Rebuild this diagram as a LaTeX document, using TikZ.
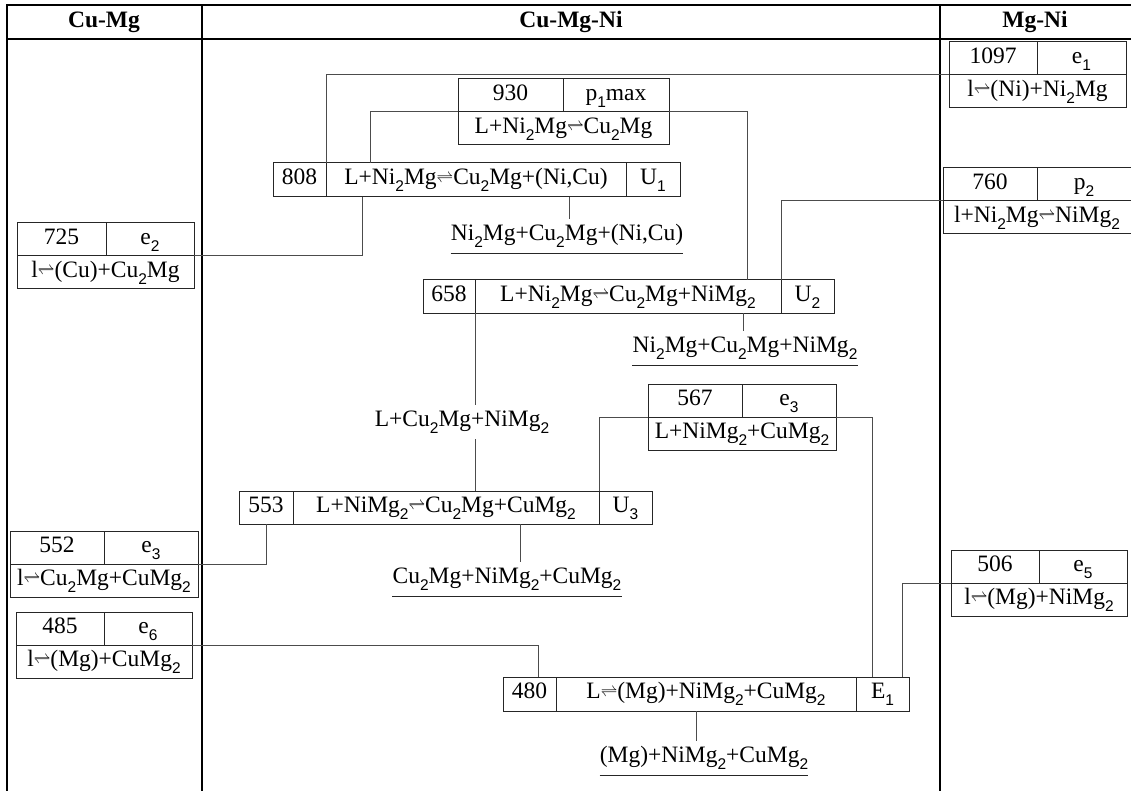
\documentclass[tikz,border=0pt]{standalone}
\usepackage{fontspec}
\usepackage{graphicx}
\setmainfont{Liberation Serif}
\setsansfont{Liberation Sans}
\usetikzlibrary{positioning}
\newcommand\dn[1]{\raisebox{-0.3em}{\sffamily\fontsize{15.5}{15.5}\selectfont#1}}
\newcommand\eqr{\raisebox{0.1em}{\scalebox{0.68}{$\rightleftharpoons$}}}
\tikzset{
 txt/.style={font=\fontsize{23.5}{28}\selectfont},
 cell/.style={txt,draw=black!85,line width=1pt,inner sep=0pt,outer sep=0pt,minimum height=33pt,text height=16.8pt,text depth=7pt},
 head/.style={font=\fontsize{23.5}{28}\selectfont\bfseries},
 prod/.style={txt,inner xsep=0pt,inner ysep=5pt,text height=16.8pt,text depth=7pt},
 conn/.style={draw=black!70,line width=1pt},
 uline/.style={draw=black!85,line width=1pt},
 frame/.style={draw=black,line width=1.3pt}
}
\begin{document}
\begin{tikzpicture}[x=1pt,y=-1pt]
\useasboundingbox (0,0) rectangle (1131,791);
% table frame
\draw[frame] (1131,5) -- (7,5) -- (7,791);
\draw[frame] (7,39) -- (1131,39);
\draw[frame] (202,5) -- (202,791);
\draw[frame] (940,5) -- (940,791);
\node[head] (hcm) at (104,22) {Cu-Mg};
\node[head] (hcmn) at (571,22) {Cu-Mg-Ni};
\node[head] (hmn) at (1035,22) {Mg-Ni};
% binary invariants
\node[cell,minimum width=88pt,anchor=north west] (n1097a) at (949,42) {1097};
\node[cell,minimum width=89pt,right=0pt of n1097a] (n1097k) {e\dn1};
\node[cell,minimum width=177pt,anchor=north west] (n1097r) at (n1097a.south west) {l\eqr(Ni)+Ni\dn2Mg};
\node[cell,minimum width=94pt,anchor=north west] (n760a) at (943,168) {760};
\node[cell,minimum width=94pt,right=0pt of n760a] (n760k) {p\dn2};
\node[cell,minimum width=188pt,anchor=north west] (n760r) at (n760a.south west) {l+Ni\dn2Mg\eqr NiMg\dn2};
\node[cell,minimum width=89pt,anchor=north west] (n725a) at (17,223) {725};
\node[cell,minimum width=88pt,right=0pt of n725a] (n725k) {e\dn2};
\node[cell,minimum width=177pt,anchor=north west] (n725r) at (n725a.south west) {l\eqr(Cu)+Cu\dn2Mg};
\node[cell,minimum width=94pt,anchor=north west] (n552a) at (10,531) {552};
\node[cell,minimum width=94pt,right=0pt of n552a] (n552k) {e\dn3};
\node[cell,minimum width=188pt,anchor=north west] (n552r) at (n552a.south west) {l\eqr Cu\dn2Mg+CuMg\dn2};
\node[cell,minimum width=88pt,anchor=north west] (n485a) at (16,612) {485};
\node[cell,minimum width=88pt,right=0pt of n485a] (n485k) {e\dn6};
\node[cell,minimum width=176pt,anchor=north west] (n485r) at (n485a.south west) {l\eqr(Mg)+CuMg\dn2};
\node[cell,minimum width=88pt,anchor=north west] (n506a) at (951,550) {506};
\node[cell,minimum width=88pt,right=0pt of n506a] (n506k) {e\dn5};
\node[cell,minimum width=176pt,anchor=north west] (n506r) at (n506a.south west) {l\eqr(Mg)+NiMg\dn2};
% ternary maxima
\node[cell,minimum width=105pt,anchor=north west] (n930a) at (458,79) {930};
\node[cell,minimum width=106pt,right=0pt of n930a] (n930k) {p\dn1max};
\node[cell,minimum width=211pt,anchor=north west] (n930r) at (n930a.south west) {L+Ni\dn2Mg\eqr Cu\dn2Mg};
\node[cell,minimum width=94pt,anchor=north west] (n567a) at (648,384) {567};
\node[cell,minimum width=94pt,right=0pt of n567a] (n567k) {e\dn3};
\node[cell,minimum width=188pt,anchor=north west] (n567r) at (n567a.south west) {L+NiMg\dn2+CuMg\dn2};
% ternary invariants
\node[cell,minimum width=53pt,minimum height=34pt,anchor=north west] (n808a) at (273,163) {808};
\node[cell,minimum width=300pt,minimum height=34pt,right=0pt of n808a] (n808r) {L+Ni\dn2Mg\eqr Cu\dn2Mg+(Ni,Cu)};
\node[cell,minimum width=54pt,minimum height=34pt,right=0pt of n808r] (n808k) {U\dn1};
\node[cell,minimum width=52pt,anchor=north west] (n658a) at (423,280) {658};
\node[cell,minimum width=306pt,right=0pt of n658a] (n658r) {L+Ni\dn2Mg\eqr Cu\dn2Mg+NiMg\dn2};
\node[cell,minimum width=53pt,right=0pt of n658r] (n658k) {U\dn2};
\node[cell,minimum width=54pt,anchor=north west] (n553a) at (239,491) {553};
\node[cell,minimum width=306pt,right=0pt of n553a] (n553r) {L+NiMg\dn2\eqr Cu\dn2Mg+CuMg\dn2};
\node[cell,minimum width=53pt,right=0pt of n553r] (n553k) {U\dn3};
\node[cell,minimum width=53pt,minimum height=34pt,anchor=north west] (n480a) at (503,677) {480};
\node[cell,minimum width=300pt,minimum height=34pt,right=0pt of n480a] (n480r) {L\eqr(Mg)+NiMg\dn2+CuMg\dn2};
\node[cell,minimum width=53pt,minimum height=34pt,right=0pt of n480r] (n480k) {E\dn1};
% phase fields
\node[prod] (p808) at (567,236) {Ni\dn2Mg+Cu\dn2Mg+(Ni,Cu)};
\node[prod] (p658) at (745,348) {Ni\dn2Mg+Cu\dn2Mg+NiMg\dn2};
\node[prod] (mid) at (462,422) {L+Cu\dn2Mg+NiMg\dn2};
\node[prod] (p553) at (507,579) {Cu\dn2Mg+NiMg\dn2+CuMg\dn2};
\node[prod] (p480) at (704,758) {(Mg)+NiMg\dn2+CuMg\dn2};
\foreach \p in {p808,p658,p553,p480} \draw[uline] (\p.south west) -- (\p.south east);
% reaction lines
\draw[conn] (n1097r.north west) -| (n808a.north east);
\draw[conn] (n930r.north west) -| ([xshift=44pt]n808r.north west);
\draw[conn] (n930r.north east) -| ([xshift=-34pt]n658r.north east);
\draw[conn] (n760r.north west) -| (n658r.north east);
\draw[conn] ([xshift=36pt]n808r.south west) |- (n725r.north east);
\draw[conn] (n658a.south east) -- (n658a.south east |- mid.north);
\draw[conn] (n658a.south east |- mid.south) -- (n658a.south east |- n553r.north);
\draw[conn] (n567r.north west) -| (n553r.north east);
\draw[conn] (n567r.north east) -| ([xshift=16pt]n480k.north west);
\draw[conn] (n553a.south) |- (n552r.north east);
\draw[conn] (n485r.north east) -| ([xshift=-18pt]n480a.north east);
\draw[conn] (n506r.north west) -| ([xshift=-7pt]n480k.north east);
\draw[conn] ([xshift=2pt]p808.north) -- ([xshift=2pt]p808.north |- n808r.south);
\draw[conn] ([xshift=-2pt]p658.north) -- ([xshift=-2pt]p658.north |- n658r.south);
\draw[conn] ([xshift=13pt]p553.north) -- ([xshift=13pt]p553.north |- n553r.south);
\draw[conn] ([xshift=-8pt]p480.north) -- ([xshift=-8pt]p480.north |- n480r.south);
\end{tikzpicture}
\end{document}
